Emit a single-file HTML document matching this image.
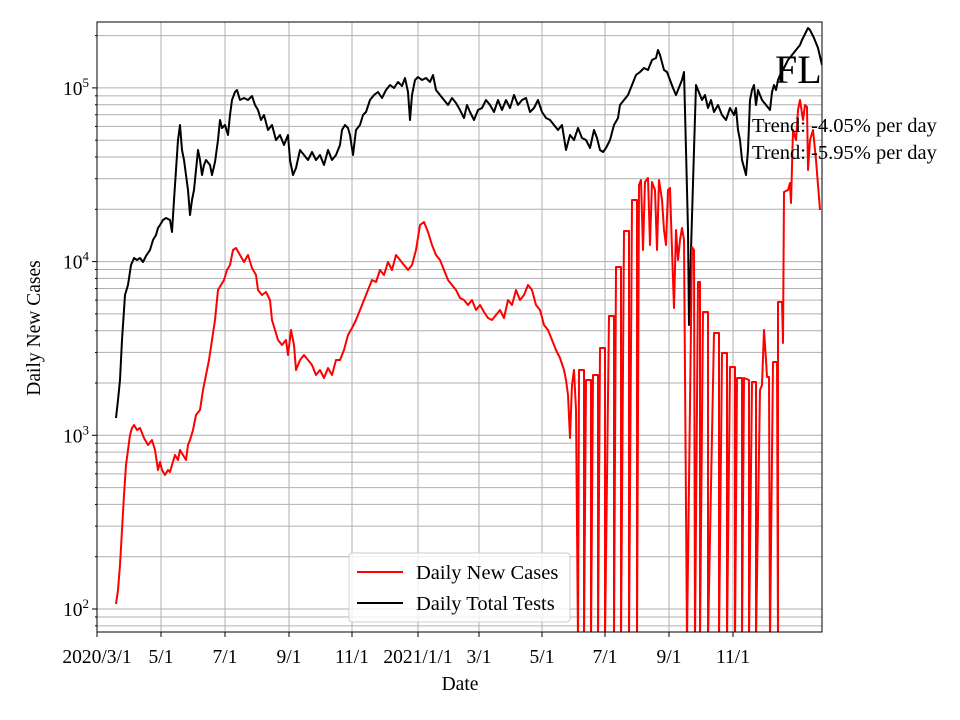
<!DOCTYPE html>
<html><head><meta charset="utf-8"><style>
body{margin:0;background:#fff}
svg{display:block;font-family:"Liberation Serif",serif}
</style></head><body>
<svg id="s" width="960" height="720" xmlns="http://www.w3.org/2000/svg">
<defs><clipPath id="c"><rect x="97" y="22" width="725" height="610"/></clipPath></defs>
<g id="grid" stroke="#b0b0b0" stroke-width="1"></g>
<g clip-path="url(#c)" fill="none" stroke-width="2" stroke-linejoin="round">
<polyline id="blk" stroke="#000"/>
<polyline id="red" stroke="#f00"/>
</g>
<rect x="97" y="22" width="725" height="610" fill="none" stroke="#000" stroke-width="1"/>
<g id="ticks" stroke="#000"></g>
<g font-size="19.5" fill="#000" id="lab"></g>
<text x="460" y="690" font-size="19.5" text-anchor="middle">Date</text>
<text transform="translate(40,328) rotate(-90)" font-size="19.5" text-anchor="middle">Daily New Cases</text>
<text x="775" y="83" font-size="40">FL</text>
<text x="752" y="132" font-size="20.5">Trend: -4.05% per day</text>
<text x="752" y="159" font-size="20.5">Trend: -5.95% per day</text>
<rect x="349" y="553" width="221" height="69" fill="#fff" fill-opacity="0.8" stroke="#ccc" rx="3"/>
<line x1="357" y1="572" x2="403" y2="572" stroke="#f00" stroke-width="2"/>
<line x1="357" y1="603" x2="403" y2="603" stroke="#000" stroke-width="2"/>
<text x="416" y="579" font-size="20.5">Daily New Cases</text>
<text x="416" y="610" font-size="20.5">Daily Total Tests</text>
</svg>
<script>
var NS="http://www.w3.org/2000/svg";
function Y(v){return 609-173.7*(Math.log10(v)-2);}
var g=document.getElementById('grid'),tk=document.getElementById('ticks'),lb=document.getElementById('lab');
function el(p,t,a){var e=document.createElementNS(NS,t);for(var k in a)e.setAttribute(k,a[k]);p.appendChild(e);return e;}
for(var d=1;d<=100000;d*=10)for(var m=1;m<10;m++){var v=d*m,y=Y(v);if(y<22||y>632)continue;
el(g,'line',{x1:97,x2:822,y1:y,y2:y});el(tk,'line',{x1:97,x2:m==1?92:95,y1:y,y2:y});
if(m==1){var t=el(lb,'text',{x:89,y:y+7,'text-anchor':'end'});t.textContent='10';var s=el(t,'tspan',{dy:-8,'font-size':13});s.textContent=Math.log10(v);}}
var xs=[[97,'2020/3/1'],[161,'5/1'],[225,'7/1'],[289,'9/1'],[352,'11/1'],[418,'2021/1/1'],[479,'3/1'],[542,'5/1'],[605,'7/1'],[669,'9/1'],[733,'11/1']];
xs.forEach(function(a){el(g,'line',{x1:a[0],x2:a[0],y1:22,y2:632});el(tk,'line',{x1:a[0],x2:a[0],y1:632,y2:637});var t=el(lb,'text',{x:a[0],y:663,'text-anchor':'middle'});t.textContent=a[1];});
document.getElementById('blk').setAttribute('points',"116,418 118,400 120,380 122,340 125,295 128,285 131,265 134,258 137,260 140,258 143,262 146,256 150,250 153,240 156,235 158,228 160,225 163,220 166,218 170,220 172,232 174,200 176,170 178,140 180,125 182,150 184,160 186,175 188,190 190,215 192,200 194,190 196,170 198,150 200,160 202,175 204,165 206,160 210,165 212,175 215,162 218,140 220,120 222,128 225,125 228,135 230,115 232,100 235,92 237,90 240,100 244,98 248,100 252,96 255,105 258,110 261,120 264,115 268,130 272,125 276,140 280,135 284,145 288,135 290,160 293,175 296,168 300,150 304,155 308,160 312,152 316,160 320,155 324,165 328,150 332,160 336,155 340,145 342,130 345,125 348,128 350,135 353,155 356,130 360,125 363,115 366,112 370,100 374,95 378,92 382,98 386,90 390,85 394,88 398,82 402,86 405,78 408,92 410,120 412,95 415,80 418,77 422,80 426,78 430,82 433,75 436,90 440,95 444,100 448,105 452,98 456,103 460,110 464,118 467,105 470,112 474,120 478,110 482,108 486,100 490,105 494,112 498,100 502,110 506,100 510,108 514,95 518,105 522,100 526,98 530,112 534,108 538,100 542,112 546,118 550,120 554,125 558,130 562,125 566,150 570,135 574,140 578,128 582,138 586,140 590,148 594,130 597,138 600,150 603,152 606,148 610,140 614,125 618,118 620,105 624,100 628,95 632,85 636,75 640,72 644,68 648,70 652,60 656,58 658,50 660,55 664,70 667,72 670,80 673,88 676,95 680,85 682,80 684,72 686,150 688,230 689,325 691,250 694,150 696,85 698,90 702,100 705,95 708,108 711,100 714,112 718,105 722,115 726,120 730,108 734,115 736,108 738,130 740,140 742,160 746,175 748,150 750,100 752,90 754,85 756,105 758,90 762,100 766,105 770,110 772,92 774,85 776,90 778,80 780,75 784,68 788,60 792,55 796,50 800,45 802,40 806,32 808,28 810,30 814,38 818,48 822,65");
var r="116,604 118,590 120,565 122,530 124,495 126,465 128,450 130,435 132,428 134,425 137,430 140,428 144,438 148,445 152,440 155,450 158,470 160,462 162,470 165,475 168,470 170,472 172,465 175,455 178,460 180,450 183,455 186,460 188,445 190,440 193,430 196,415 200,410 203,390 206,375 209,360 212,340 215,320 218,290 221,285 224,280 227,270 230,265 233,250 236,248 240,255 244,262 248,255 252,268 256,275 258,290 262,295 266,292 270,300 272,320 275,330 278,340 282,345 286,340 288,355 291,330 294,345 296,370 300,360 304,355 308,360 312,365 316,375 320,370 324,378 328,368 332,375 336,360 340,360 344,350 348,335 352,328 356,320 360,310 364,300 368,290 372,280 376,282 380,270 384,275 388,262 392,270 396,255 400,260 404,265 408,270 412,265 416,250 420,225 424,222 428,232 432,245 436,255 440,260 444,270 448,280 452,285 456,290 460,298 464,300 468,305 472,300 476,310 480,305 484,312 488,318 492,320 496,315 500,310 504,318 508,300 512,305 516,290 520,300 524,295 528,285 532,290 536,305 540,310 544,325 548,330 552,340 556,350 560,358 564,370 566,380 568,395 570,438 572,385 574,370 576,410 578,640";
var steps=[[579,370],[586,380],[593,375],[600,348],[609,316],[616,267],[624,231],[632,200]];
steps.forEach(function(s){r+=" "+s[0]+","+s[1]+" "+(s[0]+5)+","+s[1]+" "+(s[0]+5)+",640";});
r+=" 639,185 641,180 643,250 645,182 648,178 650,245 652,182 655,190 657,250 659,180 662,200 664,230 666,245 668,190 670,188 672,250 674,308 676,230 678,260 680,240 682,228 684,240 687,640 692,247 694,250 695,640 698,282 700,282 700,640 703,312 708,312 708,640 714,333 719,333 719,640 722,353 727,353 727,640 730,367 735,367 735,640 737,378 742,378 742,640 744,378 749,380 749,640 752,382 756,382 756,640 760,390 762,385 764,330 766,360 767,377 769,377 770,640 773,362 777,362 778,640 778,302 782,302 783,343 784,192 788,190 790,183 791,203 793,130 796,140 798,110 800,100 803,120 805,105 807,107 808,170 810,140 813,130 815,150 816,160 818,185 820,210";
document.getElementById('red').setAttribute('points',r);
</script>
</body></html>
